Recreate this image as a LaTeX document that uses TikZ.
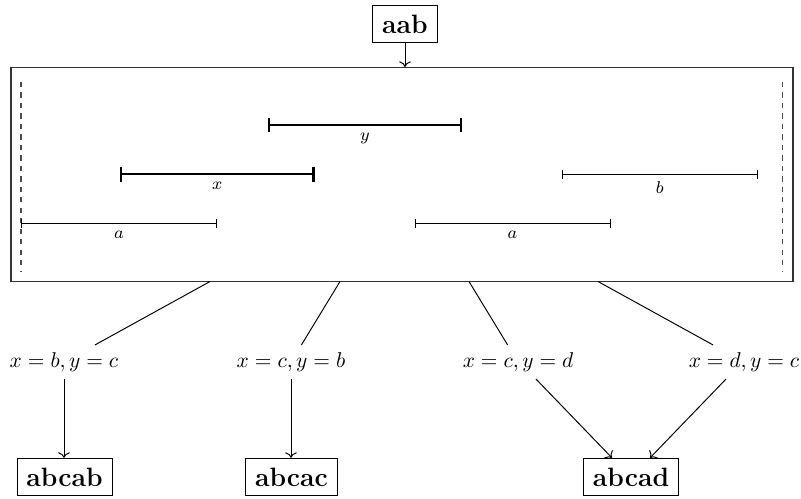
\documentclass[tikz,border=0pt]{standalone}
\usetikzlibrary{arrows.meta,calc}
\begin{document}
\begin{tikzpicture}[x=0.4673pt,y=-0.4673pt,
  result/.style={draw,font=\fontsize{12.4}{15}\bfseries,inner sep=4.4pt},
  cond/.style={inner sep=3.33pt},
  seg/.style={line width=0.45pt,{Bar[width=4.2pt]}-{Bar[width=4.2pt]}},
  thickseg/.style={line width=1.1pt,{Bar[width=7pt]}-{Bar[width=7pt]}},
  lab/.style={font=\footnotesize,below,midway},
  guide/.style={black!70,line width=0.6pt,dash pattern=on 2.4pt off 2.5pt},
  conn/.style={line width=0.45pt},
  arr/.style={line width=0.45pt,->}]
\useasboundingbox (0,0) rectangle (801,498);
% top word
\node[result] (aab) at (405,24) {aab};
% big frame
\node[draw=black!80,line width=0.55pt,minimum width=782*0.4673pt,minimum height=214*0.4673pt,inner sep=0pt] (big) at (402,174.5) {};
\draw[arr] (aab.south) -- (aab.south |- big.north);
% guides
\draw[guide] (21,82) -- (21,272);
\draw[guide] (782.5,82) -- (782.5,272);
% segments
\draw[thickseg] (268,125) -- node[lab]{$y$} (462,125);
\draw[thickseg] (120,174) -- node[lab]{$x$} (314.5,174);
\draw[seg] (562,174) -- node[lab]{$b$} (757.5,174);
\draw[seg] (21,223.5) -- node[lab]{$a$} (217,223.5);
\draw[seg] (414.5,223.5) -- node[lab]{$a$} (610.5,223.5);
% branch points on frame bottom
\coordinate (p1) at (210,281.5);
\coordinate (p2) at (340,281.5);
\coordinate (p3) at (469,281.5);
\coordinate (p4) at (598,281.5);
% conditions
\node[cond] (l1) at (64,362) {$x=b, y=c$};
\node[cond] (l2) at (291,362) {$x=c, y=b$};
\node[cond] (l3) at (518,362) {$x=c, y=d$};
\node[cond] (l4) at (744,362) {$x=d, y=c$};
\draw[conn] (p1) -- (l1);
\draw[conn] (p2) -- (l2);
\draw[conn] (p3) -- (l3);
\draw[conn] (p4) -- (l4);
% results
\node[result] (d1) at (64.5,477) {abcab};
\node[result] (d2) at (291.5,477) {abcac};
\node[result] (d3) at (631,477) {abcad};
\draw[arr] (l1.south) -- (l1.south |- d1.north);
\draw[arr] (l2.south) -- (l2.south |- d2.north);
\draw[arr] ($(l3.south)+(18,0)$) -- ($(d3.north)+(-19,0)$);
\draw[arr] ($(l4.south)+(-18,0)$) -- ($(d3.north)+(19,0)$);
\end{tikzpicture}
\end{document}
